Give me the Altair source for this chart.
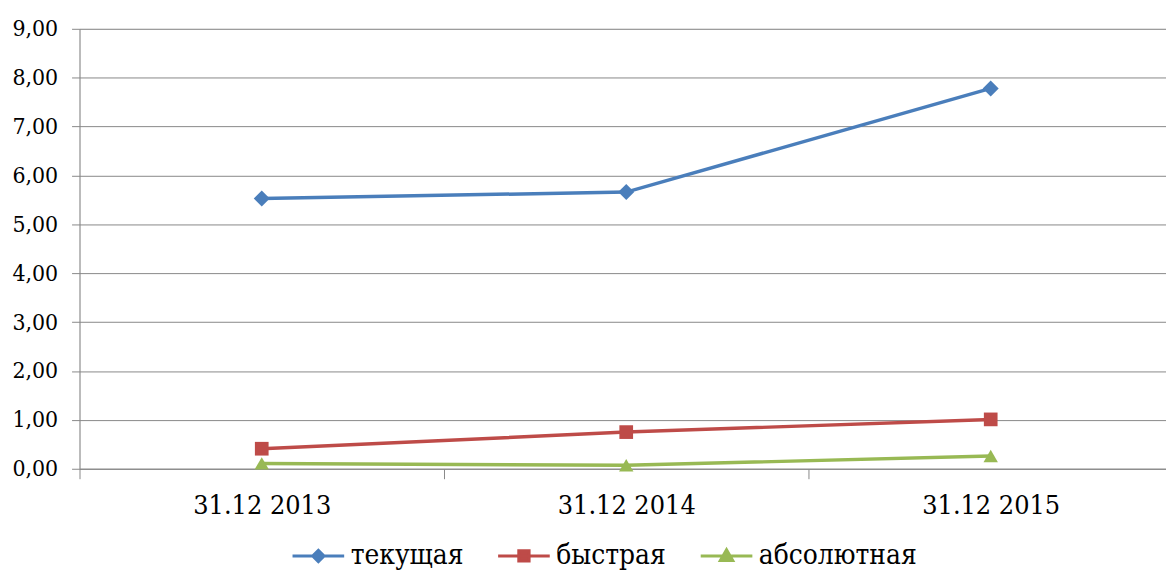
import altair as alt
import pandas as pd

dates = ["31.12 2013", "31.12 2014", "31.12 2015"]
series = ["текущая", "быстрая", "абсолютная"]
tekushchaya = [5.53, 5.66, 7.78]
bystraya = [0.41, 0.75, 1.01]
absolyutnaya = [0.11, 0.07, 0.26]
colors = ["#4a7ebb", "#be4b48", "#98b954"]
shapes = ["diamond", "square", "triangle-up"]
marker_sizes = [260, 190, 210]
y_ticks = [0, 1, 2, 3, 4, 5, 6, 7, 8, 9]

rows = []
for name, vals in zip(series, [tekushchaya, bystraya, absolyutnaya]):
    for d, v in zip(dates, vals):
        rows.append({"date": d, "series": name, "value": v})
df = pd.DataFrame(rows)

FONT = "DejaVu Serif Condensed"

legend_shape = (
    "datum.value === 'текущая' ? 'M-1,0H1M0,-0.22L0.22,0L0,0.22L-0.22,0Z' : "
    "datum.value === 'быстрая' ? 'M-1,0H1M-0.2,-0.2H0.2V0.2H-0.2Z' : "
    "'M-1,0H1M0,-0.24L0.24,0.18H-0.24Z'"
)
legend_color = (
    "datum.value === 'текущая' ? '#4a7ebb' : "
    "datum.value === 'быстрая' ? '#be4b48' : '#98b954'"
)

x = alt.X(
    "date:N",
    sort=dates,
    scale=alt.Scale(type="band", paddingInner=0, paddingOuter=0, range=[0, 1101]),
    axis=alt.Axis(
        title=None, labelAngle=0, tickBand="extent", tickSize=10,
        labelFont=FONT, labelFontSize=27, labelColor="black", labelPadding=14,
        domainColor="#888888", tickColor="#888888", grid=False,
    ),
)
y = alt.Y(
    "value:Q",
    scale=alt.Scale(domain=[0, 9], nice=False, zero=True),
    axis=alt.Axis(
        title=None, values=y_ticks, tickSize=8, labelPadding=14,
        labelExpr="replace(format(datum.value, '.2f'), '.', ',')",
        labelFont=FONT, labelFontSize=23, labelColor="black",
        domainColor="#888888", tickColor="#888888",
        grid=True, gridColor="#888888", gridWidth=1,
    ),
)
legend = alt.Legend(
    title=None, orient="none", legendX=213, legendY=503,
    direction="horizontal",
    symbolType=alt.ExprRef(legend_shape),
    symbolSize=2704, symbolStrokeWidth=3,
    symbolFillColor=alt.ExprRef(legend_color),
    symbolStrokeColor=alt.ExprRef(legend_color),
    labelFont=FONT, labelFontSize=28, labelColor="black",
    labelOffset=5, columnPadding=28,
)
color_leg = alt.Color("series:N", sort=series,
                      scale=alt.Scale(domain=series, range=colors), legend=legend)
color_noleg = alt.Color("series:N", sort=series,
                        scale=alt.Scale(domain=series, range=colors), legend=None)

lines = alt.Chart(df).mark_line(strokeWidth=3.5).encode(x=x, y=y, color=color_leg)
point_layers = [
    alt.Chart(df)
    .transform_filter(alt.datum.series == name)
    .mark_point(filled=True, opacity=1, size=sz, shape=shp)
    .encode(x=x, y=y, color=color_noleg)
    for name, shp, sz in zip(series, shapes, marker_sizes)
]

chart = (
    alt.layer(lines, *point_layers)
    .properties(
        width=1094, height=443,
        autosize=alt.AutoSizeParams(type="none"),
        padding={"left": 72, "top": 19, "right": 0, "bottom": 102},
    )
    .configure_view(stroke=None)
    .configure(background="white")
)

chart.save("out.html", embed_options={"renderer": "svg", "actions": False})
